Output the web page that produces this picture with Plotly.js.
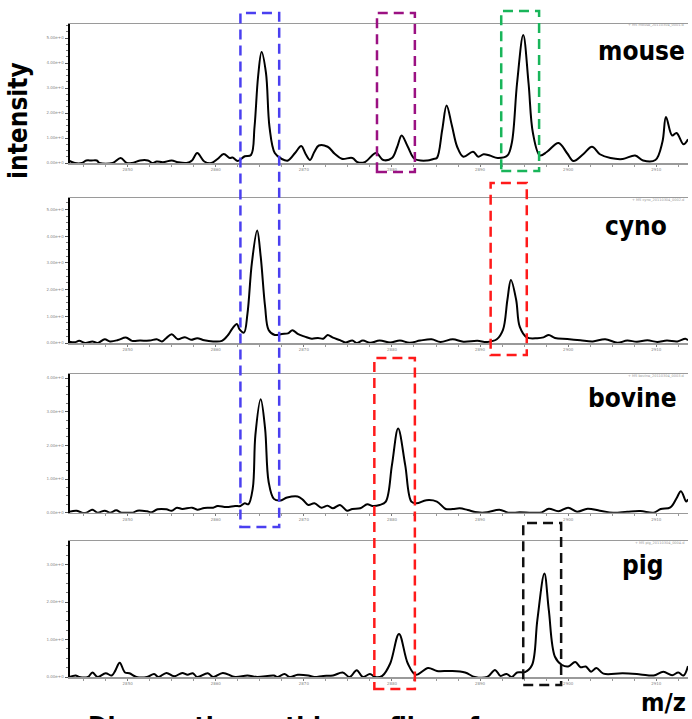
<!DOCTYPE html>
<html>
<head>
<meta charset="utf-8">
<script src="https://cdn.plot.ly/plotly-3.0.1.min.js"></script>
<style>html,body{margin:0;padding:0;background:#fff;}#chart{width:692px;height:719px;}</style>
</head>
<body>
<div id="chart"></div>
<script>
// ---- data (m/z, intensity in arbitrary units) ----
const panelNames = ["mouse", "cyno", "bovine", "pig"];
const xTickVals = [2850, 2860, 2870, 2880, 2890, 2900, 2910];

const mouseMz = [2843.4,2844.0,2844.8,2845.3,2845.9,2846.5,2846.8,2848.3,2849.2,2849.9,2850.5,2851.4,2852.3,2852.8,2853.3,2854.0,2855.0,2855.7,2856.7,2857.3,2857.9,2858.7,2859.5,2860.2,2860.9,2861.6,2861.9,2862.5,2863.3,2864.0,2864.4,2864.8,2865.2,2865.7,2866.1,2866.7,2867.5,2868.2,2869.0,2869.7,2870.2,2870.7,2871.2,2871.7,2872.7,2873.5,2874.3,2875.5,2876.1,2876.9,2878.2,2879.0,2880.0,2880.6,2881.1,2881.8,2882.6,2884.0,2884.7,2885.1,2885.7,2886.2,2886.8,2887.4,2888.1,2889.2,2889.8,2890.4,2891.1,2892.0,2893.1,2893.6,2894.2,2894.9,2895.5,2896.0,2896.8,2897.6,2898.9,2899.9,2900.6,2901.7,2902.7,2903.6,2904.8,2906.2,2907.6,2908.5,2909.9,2910.7,2911.1,2911.8,2912.3,2913.1,2913.6];
const mouseInt = [0.08,0,0,0.1,0.1,0.1,0,0,0.2,0,0,0.1,0.1,0,0.06,0.03,0.1,0.03,0,0.1,0.4,0.06,0,0.16,0.36,0.2,0.22,0.08,0.27,0.32,1.44,3.44,4.44,3.6,1.44,0.4,0.16,0.1,0.4,0.68,0.36,0.12,0.45,0.7,0.65,0.37,0.17,0.2,0.03,0.03,0.4,0.12,0.2,0.65,1.1,0.65,0.16,0.1,0.16,0.2,1.32,2.3,1.5,0.65,0.25,0.45,0.25,0.35,0.3,0.2,0.3,0.8,3.2,5.12,3.2,1.2,0.3,0.45,0.8,0.38,0.08,0.35,0.65,0.35,0.2,0.16,0.3,0.1,0.12,0.85,1.84,1.1,1.2,0.75,0.95];

const cynoMz = [2843.4,2844.0,2844.5,2845.2,2846.0,2846.6,2847.4,2848.0,2848.9,2849.8,2850.5,2851.4,2852.5,2853.3,2853.9,2854.4,2855.0,2855.7,2856.5,2857.2,2857.9,2858.7,2859.7,2860.7,2861.4,2861.9,2862.4,2862.7,2863.2,2863.6,2864.1,2864.7,2865.1,2865.6,2866.0,2866.7,2867.5,2868.2,2868.7,2869.3,2870.1,2870.9,2871.6,2872.2,2872.7,2873.3,2874.1,2874.7,2875.5,2876.0,2876.7,2877.5,2878.6,2879.8,2880.9,2882.0,2883.2,2884.5,2885.5,2886.9,2888.1,2889.7,2890.8,2891.9,2892.6,2893.1,2893.5,2894.1,2894.5,2895.3,2896.5,2897.2,2897.8,2898.5,2899.9,2901.4,2902.8,2904.2,2905.6,2906.7,2907.8,2909.0,2910.1,2911.2,2912.4,2913.3,2913.6];
const cynoInt = [0.05,0.03,0.08,0,0.06,0,0.14,0.06,0.11,0.21,0.08,0.09,0.09,0.14,0.06,0.19,0.33,0.14,0.22,0.12,0.18,0.1,0.06,0.08,0.3,0.55,0.71,0.51,0.39,1.1,3.0,4.21,3.24,1.36,0.49,0.3,0.34,0.36,0.48,0.34,0.24,0.16,0.19,0.16,0.3,0.2,0.11,0.02,0.09,0,0.09,0.01,0.09,0.02,0.09,0.01,0.09,0.14,0.04,0.14,0.05,0.08,0.04,0.14,0.49,1.61,2.36,1.61,0.61,0.21,0.18,0.21,0.3,0.19,0.15,0.1,0.06,0.14,0.01,0.09,0.05,0.1,0.04,0.09,0.06,0.16,0.1];

const bovineMz = [2843.4,2844.2,2844.8,2845.3,2846.0,2846.6,2847.4,2848.0,2848.7,2849.3,2850.0,2850.6,2851.1,2852.2,2852.7,2853.4,2854.4,2855.0,2855.6,2856.2,2857.3,2857.9,2858.7,2859.7,2860.2,2861.2,2862.2,2862.8,2863.3,2863.7,2864.2,2864.5,2865.1,2865.6,2866.0,2866.6,2867.3,2868.1,2869.3,2869.9,2870.5,2871.2,2872.0,2872.7,2873.3,2874.1,2874.9,2875.5,2876.4,2877.2,2877.8,2878.6,2879.3,2880.0,2880.7,2881.5,2882.2,2882.8,2883.9,2885.1,2886.1,2886.9,2887.7,2888.6,2889.7,2890.8,2892.2,2893.2,2894.5,2895.9,2897.0,2897.8,2898.9,2900.0,2901.0,2902.2,2903.6,2905.1,2906.7,2908.2,2909.7,2910.5,2911.6,2912.3,2912.8,2913.4,2913.6];
const bovineInt = [0.03,0.06,0,0,0.09,0,0.06,0,0.07,0,0,0,0.06,0.04,0.01,0.1,0.1,0.06,0.15,0.11,0.15,0.09,0.14,0.15,0.2,0.17,0.2,0.2,0.28,0.25,0.72,2.31,3.37,2.5,0.92,0.41,0.36,0.45,0.48,0.38,0.23,0.28,0.15,0.21,0.13,0.23,0.06,0.11,0.13,0.25,0.2,0.23,0.33,1.42,2.5,1.42,0.33,0.28,0.37,0.33,0.11,0.11,0.13,0.08,0.01,0.01,0.09,0,0.01,0,0.01,0.12,0.04,0.15,0.03,0.12,0.06,0,0.03,0.05,0,0.11,0.16,0.43,0.64,0.33,0.4];

const pigMz = [2843.4,2844.1,2844.5,2845.5,2846.0,2846.6,2847.5,2848.2,2848.6,2849.1,2849.7,2850.2,2851.0,2852.2,2853.0,2853.5,2854.4,2855.3,2856.2,2856.8,2857.4,2857.9,2859.1,2859.7,2860.8,2862.2,2863.6,2864.7,2866.6,2867.0,2867.8,2868.4,2869.3,2870.5,2871.2,2872.2,2873.3,2874.4,2875.2,2876.0,2876.7,2877.5,2878.1,2878.9,2879.8,2880.8,2881.8,2882.7,2884.1,2885.1,2886.6,2888.3,2889.4,2890.8,2891.7,2892.3,2893.0,2893.6,2894.2,2895.1,2895.9,2896.5,2897.3,2897.8,2898.5,2899.3,2900.0,2900.8,2901.4,2902.0,2902.6,2903.2,2904.0,2906.2,2908.2,2909.7,2910.8,2911.8,2912.5,2913.1,2913.6];
const pigInt = [0,0.04,0,0,0.12,0,0.1,0.04,0.17,0.38,0.12,0.1,0,0,0.08,0,0.11,0.02,0.11,0.06,0.1,0,0.1,0,0.11,0,0.04,0,0.04,0,0.08,0,0.06,0.04,0,0.03,0.04,0.12,0,0.18,0,0.08,0,0.03,0.36,1.15,0.36,0.06,0.24,0.16,0.16,0.12,0,0,0.19,0.03,0.08,0,0.12,0.13,0.32,1.52,2.76,1.79,0.54,0.32,0.28,0.4,0.26,0.28,0.14,0.24,0.09,0.1,0.07,0.04,0.14,0.05,0.12,0.04,0.29];

// highlighted m/z windows (dashed boxes)
const boxMzLow  = [2862.8, 2878.3, 2892.4, 2891.2, 2878.0, 2894.9];
const boxMzHigh = [2867.2, 2882.6, 2896.7, 2895.3, 2882.6, 2899.2];

// ---- layout geometry ----
const W = 692, H = 719;
const px = v => v / W, py = v => 1 - v / H;
const xRange = [2843.4, 2913.6];
const panels = [
  {mz: mouseMz, it: mouseInt, top: 24, bot: 163, ymax: 5.56, lab: {x: 687, y: 51}},
  {mz: cynoMz, it: cynoInt, top: 198, bot: 343, ymax: 5.43, lab: {x: 669, y: 226}},
  {mz: bovineMz, it: bovineInt, top: 374, bot: 512.7, ymax: 4.12, lab: {x: 679, y: 398}},
  {mz: pigMz, it: pigInt, top: 541, bot: 677, ymax: 3.63, lab: {x: 666, y: 565}}
];
const fileTags = ["+ MS mouse_20110304_0001.d", "+ MS cyno_20110304_0002.d", "+ MS bovine_20110304_0003.d", "+ MS pig_20110304_0004.d"];

const traces = [];
const layout = {
  width: W, height: H,
  margin: {l: 0, r: 0, t: 0, b: 0},
  paper_bgcolor: "#fff", plot_bgcolor: "#fff",
  showlegend: false,
  font: {family: "DejaVu Sans, Verdana, sans-serif", color: "#000"},
  annotations: [], shapes: []
};

panels.forEach((p, i) => {
  const s = i === 0 ? "" : String(i + 1);
  traces.push({
    type: "scatter", mode: "lines", x: p.mz, y: p.it,
    xaxis: "x" + s, yaxis: "y" + s,
    line: {color: "#000", width: 2, shape: "spline", smoothing: 1},
    hoverinfo: "skip"
  });
  layout["xaxis" + s] = {
    domain: [px(69.5), px(688)], range: xRange, anchor: "y" + s,
    showline: true, mirror: true, linecolor: "#9a9a9a", linewidth: 1.5,
    ticks: "outside", ticklen: 2, tickcolor: "#777", tickwidth: 1,
    tickvals: xTickVals, tickfont: {size: 4, color: "#888"},
    minor: {dtick: 2.5, ticks: "outside", ticklen: 2, tickcolor: "#999"},
    showgrid: false, zeroline: false, fixedrange: true
  };
  layout["yaxis" + s] = {
    domain: [py(p.bot), py(p.top)], range: [0, p.ymax], anchor: "x" + s,
    showline: true, linecolor: "#000", linewidth: 2,
    ticks: "outside", ticklen: 3, tickcolor: "#555", tickwidth: 1,
    dtick: 1, tick0: 0, tickformat: ".2e", tickfont: {size: 4, color: "#888"},
    minor: {dtick: 0.25, ticks: "outside", ticklen: 2, tickcolor: "#777"},
    showgrid: false, zeroline: false, fixedrange: true
  };
  layout.annotations.push({
    xref: "paper", yref: "paper", x: px(p.lab.x), y: py(p.lab.y),
    xanchor: "right", yanchor: "middle", showarrow: false,
    text: "<b>" + panelNames[i] + "</b>",
    font: {family: "DejaVu Sans Condensed, Liberation Sans, Arial, sans-serif", size: 26, color: "#000"}
  });
  layout.annotations.push({
    xref: "paper", yref: "paper", x: px(686), y: py(p.top + 1.5),
    xanchor: "right", yanchor: "middle", showarrow: false,
    text: fileTags[i], font: {size: 3.5, color: "#999"}
  });
});

// axis titles
layout.annotations.push({
  xref: "paper", yref: "paper", x: px(18), y: py(121), textangle: -90,
  xanchor: "center", yanchor: "middle", showarrow: false,
  text: "<b>intensity</b>",
  font: {family: "DejaVu Sans Condensed, Liberation Sans, Arial, sans-serif", size: 26, color: "#000"}
});
layout.annotations.push({
  xref: "paper", yref: "paper", x: px(688), y: py(702),
  xanchor: "right", yanchor: "middle", showarrow: false,
  text: "<b>m/z</b>",
  font: {family: "DejaVu Sans Condensed, Liberation Sans, Arial, sans-serif", size: 25, color: "#000"}
});
// caption line that is cut off at the bottom edge of the original figure
layout.annotations.push({
  xref: "paper", yref: "paper", x: px(86), y: py(727),
  xanchor: "left", yanchor: "middle", showarrow: false,
  text: "<b>Diagnostic peptide profiles of</b>",
  font: {family: "DejaVu Sans Condensed, Liberation Sans, Arial, sans-serif", size: 26, color: "#000"}
});

// dashed boxes
const boxColors = ["#4a3ff0", "#9b1182", "#19b55a", "#ff1a1a", "#ff1a1a", "#111"];
const boxTop = [13, 13, 11, 183, 358, 523];
const boxBot = [527, 172, 171, 355, 689, 685];
boxColors.forEach((c, k) => {
  layout.shapes.push({
    type: "rect", xref: "x", yref: "paper",
    x0: boxMzLow[k], x1: boxMzHigh[k], y0: py(boxBot[k]), y1: py(boxTop[k]),
    line: {color: c, width: 2.5, dash: "10px,6px"}, fillcolor: "rgba(0,0,0,0)"
  });
});

Plotly.newPlot("chart", traces, layout, {staticPlot: true, displayModeBar: false});
</script>
</body>
</html>
